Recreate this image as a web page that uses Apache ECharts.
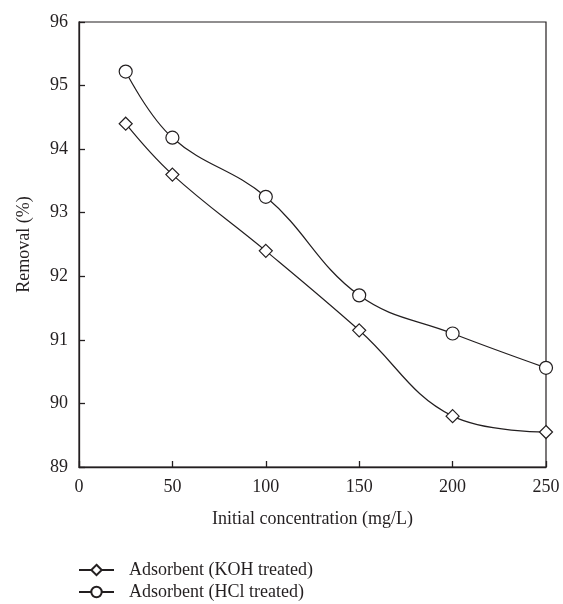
<!DOCTYPE html>
<html>
<head>
<meta charset="utf-8">
<script src="https://cdn.jsdelivr.net/npm/echarts@6/dist/echarts.min.js"></script>
<style>html,body{margin:0;padding:0;background:#fff;}#c{width:563px;height:604px;}</style>
</head>
<body>
<div id="c"></div>
<script>
const concentrations = [25, 50, 100, 150, 200, 250];
const kohRemoval = [94.4, 93.6, 92.4, 91.15, 89.8, 89.55];
const hclRemoval = [95.22, 94.18, 93.25, 91.7, 91.1, 90.56];
const seriesNames = ['Adsorbent (KOH treated)', 'Adsorbent (HCl treated)'];

const FONT = 'Liberation Serif';
const INK = '#231f20';
const chart = echarts.init(document.getElementById('c'));
function pairs(ys){ return concentrations.map((x,i)=>[x, ys[i]]); }
function legendFor(name, top){
  return {
    orient: 'vertical', left: 73, top: top,
    itemWidth: 35, itemHeight: 13, itemGap: 8,
    textStyle: { fontFamily: FONT, fontSize: 18, color: INK, padding: [0,0,0,10] },
    data: [name]
  };
}
chart.setOption({
  animation: false,
  backgroundColor: '#fff',
  grid: { left: 79, right: 17, top: 22, bottom: 137, show: true, borderColor: INK, borderWidth: 1.2, backgroundColor: 'transparent' },
  legend: [legendFor(seriesNames[0], 556), legendFor(seriesNames[1], 578)],
  xAxis: {
    type: 'value', min: 0, max: 250, interval: 50,
    name: 'Initial concentration (mg/L)', nameLocation: 'middle', nameGap: 43,
    nameTextStyle: { fontFamily: FONT, fontSize: 18, color: INK },
    axisLine: { show: true, lineStyle: { color: INK, width: 1.3 } },
    axisTick: { show: true, inside: true, length: 6, lineStyle: { color: INK, width: 1.3 } },
    axisLabel: { fontFamily: FONT, fontSize: 18, color: INK, margin: 11 },
    splitLine: { show: false }
  },
  yAxis: {
    type: 'value', min: 89, max: 96, interval: 1,
    name: 'Removal (%)', nameLocation: 'middle', nameGap: 46,
    nameTextStyle: { fontFamily: FONT, fontSize: 18, color: INK },
    axisLine: { show: true, lineStyle: { color: INK, width: 1.3 } },
    axisTick: { show: true, inside: true, length: 6, lineStyle: { color: INK, width: 1.3 } },
    axisLabel: { fontFamily: FONT, fontSize: 18, color: INK, margin: 11 },
    splitLine: { show: false }
  },
  series: [
    {
      name: seriesNames[0], type: 'line', data: pairs(kohRemoval), smooth: 0.4,
      symbol: 'diamond', symbolSize: 13,
      lineStyle: { color: INK, width: 1.2 },
      itemStyle: { color: '#fff', borderColor: INK, borderWidth: 1.2 }
    },
    {
      name: seriesNames[1], type: 'line', data: pairs(hclRemoval), smooth: 0.4,
      symbol: 'circle', symbolSize: 13,
      lineStyle: { color: INK, width: 1.2 },
      itemStyle: { color: '#fff', borderColor: INK, borderWidth: 1.2 }
    }
  ]
});
</script>
</body>
</html>
